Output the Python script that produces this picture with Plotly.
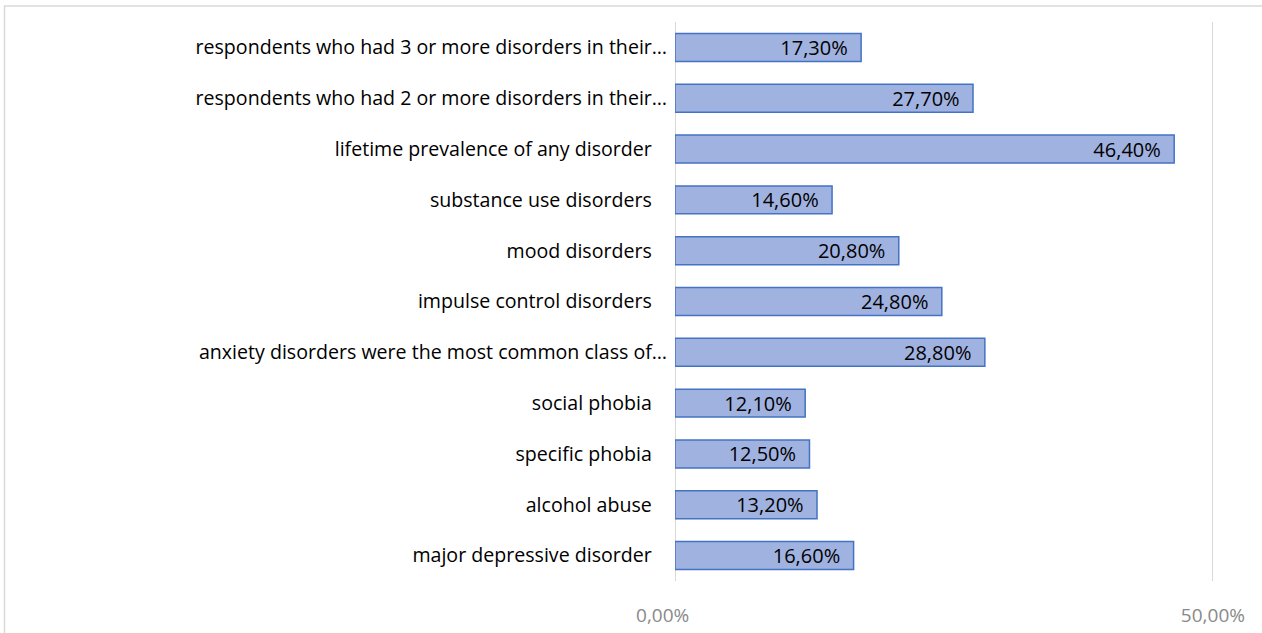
import plotly.graph_objects as go

categories = [
    "major depressive disorder",
    "alcohol abuse",
    "specific phobia",
    "social phobia",
    "anxiety disorders were the most common class of…",
    "impulse control disorders",
    "mood disorders",
    "substance use disorders",
    "lifetime prevalence of any disorder",
    "respondents who had 2 or more disorders in their…",
    "respondents who had 3 or more disorders in their…",
]
values = [16.6, 13.2, 12.5, 12.1, 28.8, 24.8, 20.8, 14.6, 46.4, 27.7, 17.3]
x_ticks = [0, 50]
x_tick_labels = ["0,00%", "50,00%"]

FONT = "Open Sans, Noto Sans, sans-serif"
NBSP = "\u00a0"

# truncated labels sit slightly closer to the axis in the original
y_tick_text = [c if c.endswith("…") else c + NBSP * 3 for c in categories]
x_tick_text = [x_tick_labels[0] + NBSP * 5, x_tick_labels[1]]

fig = go.Figure(
    go.Bar(
        x=values,
        y=categories,
        orientation="h",
        marker=dict(color="#a0b2e0", line=dict(color="#4472c4", width=1.5)),
        texttemplate="%{x:.2f}%" + NBSP * 2,
        textposition="inside",
        insidetextanchor="end",
        constraintext="none",
        textfont=dict(color="#000000", size=20, family=FONT),
        cliponaxis=False,
    )
)

fig.update_layout(
    width=1262,
    height=633,
    margin=dict(l=675, r=48, t=22, b=52),
    paper_bgcolor="white",
    plot_bgcolor="white",
    separators=",.",
    bargap=0.45,
    showlegend=False,
    font=dict(family=FONT, size=19, color="#000000"),
    xaxis=dict(
        range=[0, 50.1],
        tickvals=x_ticks,
        ticktext=x_tick_text,
        automargin=False,
        showgrid=True,
        gridcolor="#d9d9d9",
        gridwidth=1,
        zeroline=True,
        zerolinecolor="#d9d9d9",
        zerolinewidth=1,
        showline=False,
        ticks="outside",
        ticklen=17,
        tickcolor="rgba(0,0,0,0)",
        tickfont=dict(color="#898989", size=19),
        fixedrange=True,
    ),
    yaxis=dict(
        categoryorder="array",
        categoryarray=categories,
        tickmode="array",
        tickvals=categories,
        ticktext=y_tick_text,
        automargin=False,
        showgrid=False,
        zeroline=False,
        showline=False,
        ticks="outside",
        ticklen=3,
        tickcolor="rgba(0,0,0,0)",
        tickfont=dict(color="#000000", size=19.6),
    ),
    shapes=[
        dict(
            type="rect",
            xref="paper",
            yref="paper",
            x0=(4.5 - 675) / 539,
            x1=1.5,
            y0=-0.5,
            y1=(580.6 - 5.5) / 559,
            line=dict(color="#d9d9d9", width=1.5),
            fillcolor="rgba(0,0,0,0)",
            layer="below",
        )
    ],
)

fig.write_html("out.html")
